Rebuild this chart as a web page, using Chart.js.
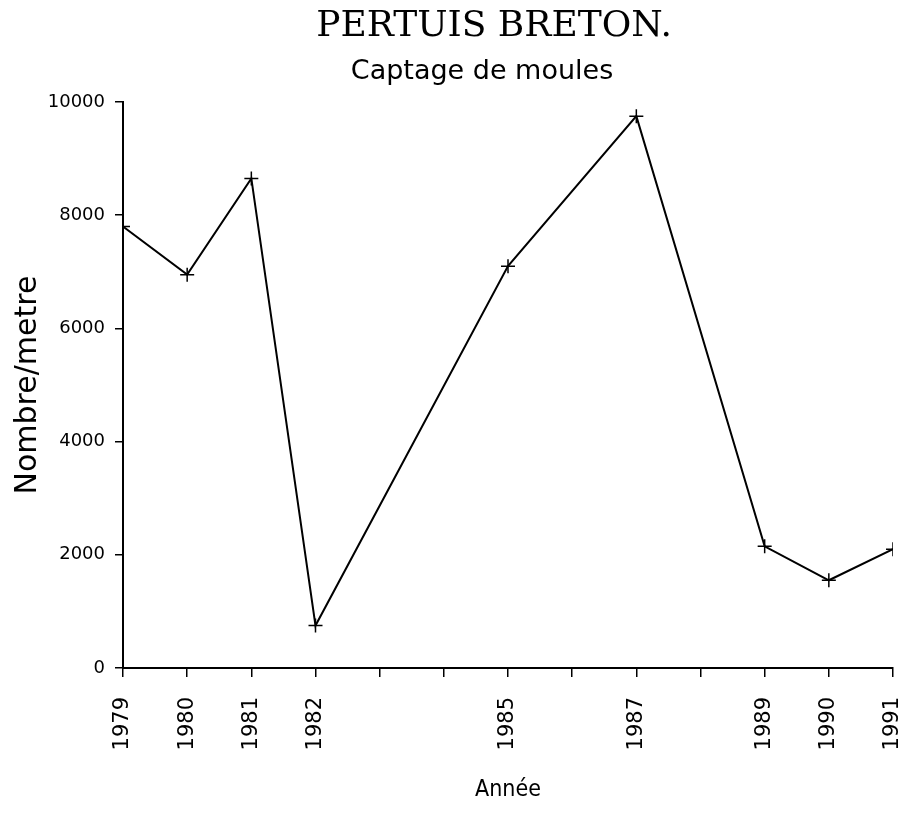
<!DOCTYPE html>
<html>
<head>
<meta charset="utf-8">
<script src="https://cdn.jsdelivr.net/npm/chart.js@4"></script>
<style>
  body { margin: 0; background: #fff; }
  #box { width: 902px; height: 818px; }
</style>
</head>
<body>
<div id="box"><canvas id="chart1"></canvas></div>
<script>
// donnees
const annees = [1979, 1980, 1981, 1982, 1985, 1987, 1989, 1990, 1991];
const captage = [7800, 6950, 8650, 750, 7100, 9750, 2150, 1550, 2100];
const yTicks = [0, 2000, 4000, 6000, 8000, 10000];

const titre = "PERTUIS BRETON.";
const sousTitre = "Captage de moules";

// titres dessines au-dessus du graphe
const titres = {
  id: "titres",
  afterDraw(chart) {
    const c = chart.ctx;
    c.save();
    c.fillStyle = "#000";
    c.textAlign = "center";
    c.textBaseline = "middle";
    c.font = '36px "DejaVu Serif"';
    c.fillText(titre, 494, 27);
    c.font = '27px "DejaVu Sans"';
    c.fillText(sousTitre, 482, 72);
    c.restore();
  }
};

const ctx = document.getElementById("chart1");
new Chart(ctx, {
  type: "line",
  data: {
    datasets: [
      {
        label: "Captage",
        data: annees.map((a, i) => ({ x: a, y: captage[i] })),
        borderColor: "#000",
        backgroundColor: "#000",
        borderWidth: 2,
        pointStyle: "cross",
        pointRadius: 7,
        pointBorderWidth: 1.5,
        pointBorderColor: "#000",
        tension: 0,
      },
    ],
  },
  options: {
    responsive: true,
    maintainAspectRatio: false,
    animation: false,
    layout: { padding: { top: 102, right: 9, left: 0, bottom: 0 } },
    plugins: {
      legend: { display: false },
      tooltip: { enabled: false },
    },
    scales: {
      x: {
        type: "linear",
        min: 1979,
        max: 1991,
        afterFit: (s) => {
          s.height = 150;
          s.paddingLeft = 0;
          s.paddingRight = 0;
        },
        border: { color: "#000", width: 2 },
        grid: { drawOnChartArea: false, color: "#000", tickLength: 9, lineWidth: 1.5 },
        ticks: {
          stepSize: 1,
          autoSkip: false,
          minRotation: 90,
          maxRotation: 90,
          padding: 20,
          color: "#000",
          font: { family: "DejaVu Sans", size: 21 },
          callback: (v) => (annees.includes(v) ? String(v) : ""),
        },
        title: {
          display: true,
          text: "Année",
          color: "#000",
          font: { family: "DejaVu Sans Condensed", size: 23 },
          padding: { top: 0, bottom: 14 },
        },
      },
      y: {
        min: 0,
        max: 10000,
        afterFit: (s) => { s.width = 123; },
        afterBuildTicks: (s) => { s.ticks = yTicks.map((v) => ({ value: v })); },
        border: { color: "#000", width: 2 },
        grid: { drawOnChartArea: false, color: "#000", tickLength: 8, lineWidth: 1.5 },
        ticks: {
          padding: 10,
          color: "#000",
          font: { family: "DejaVu Sans", size: 18 },
          callback: (v) => String(v),
        },
        title: {
          display: true,
          text: "Nombre/metre",
          color: "#000",
          font: { family: "DejaVu Sans", size: 30 },
          padding: { top: 10, bottom: 0 },
        },
      },
    },
  },
  plugins: [titres],
});
</script>
</body>
</html>
